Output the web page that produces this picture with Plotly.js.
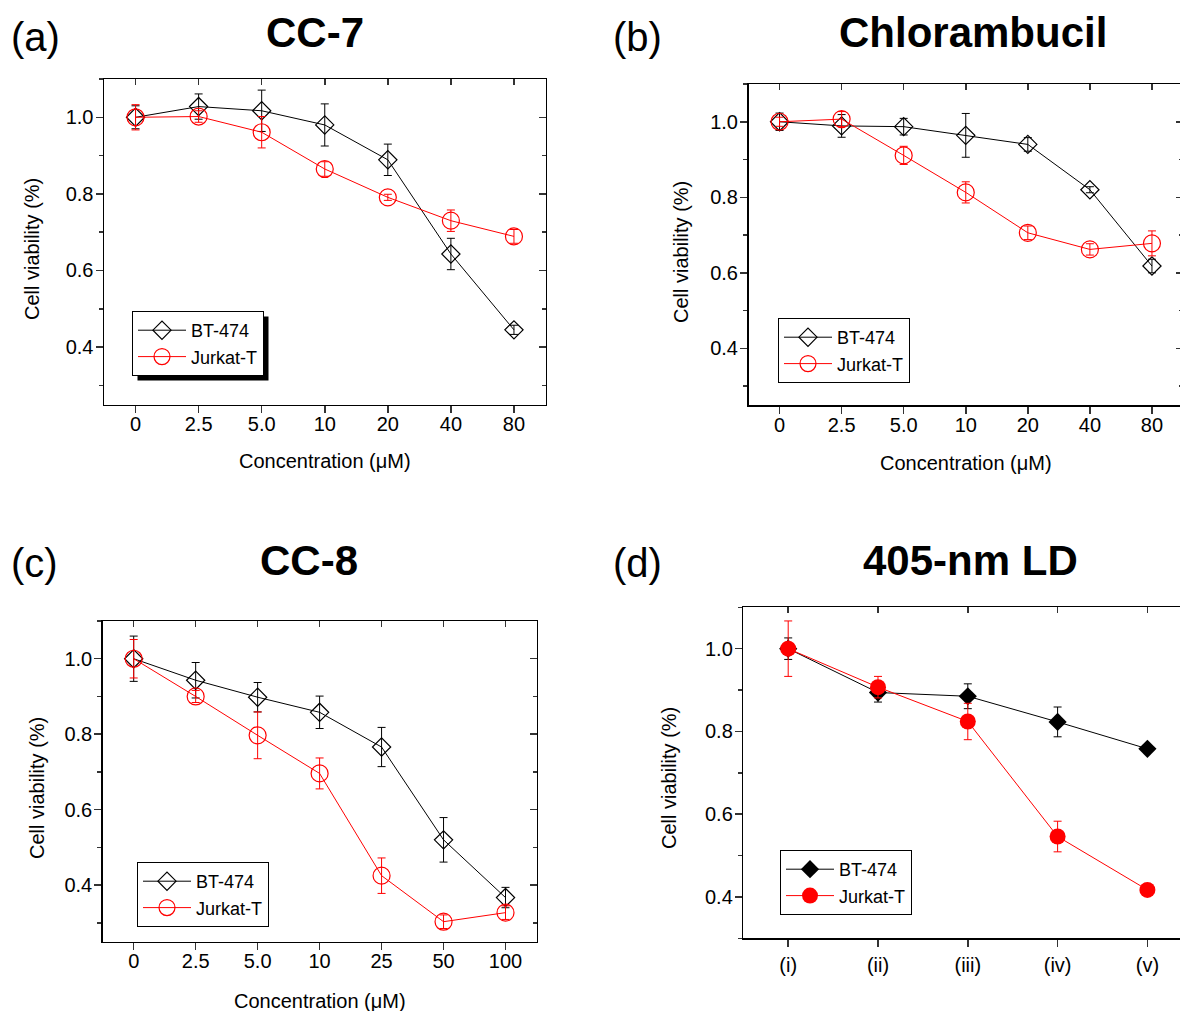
<!DOCTYPE html>
<html><head><meta charset="utf-8">
<script src="https://cdn.plot.ly/plotly-3.0.1.min.js"></script>
<style>html,body{margin:0;padding:0;overflow:hidden;background:#fff}</style>
</head><body><div id="chart" style="width:1200px;height:1011px"></div>
<script>
// ---------- data ----------
const catsA = ['0','2.5','5.0','10','20','40','80'];
const catsB = ['0','2.5','5.0','10','20','40','80'];
const catsC = ['0','2.5','5.0','10','25','50','100'];
const catsD = ['(i)','(ii)','(iii)','(iv)','(v)'];

// (a) CC-7
const aBT    = [1.000, 1.028, 1.017, 0.980, 0.889, 0.643, 0.445];
const aBTerr = [0.030, 0.033, 0.054, 0.055, 0.041, 0.041, 0.012];
const aJK    = [1.000, 1.002, 0.961, 0.865, 0.791, 0.730, 0.689];
const aJKerr = [0.033, 0.015, 0.041, 0.019, 0.008, 0.028, 0.018];
// (b) Chlorambucil
const bBT    = [1.000, 0.989, 0.987, 0.964, 0.940, 0.820, 0.618];
const bBTerr = [0.023, 0.030, 0.022, 0.058, 0.018, 0.008, 0.018];
const bJK    = [1.000, 1.007, 0.911, 0.813, 0.706, 0.662, 0.678];
const bJKerr = [0.012, 0.020, 0.024, 0.028, 0.018, 0.015, 0.033];
// (c) CC-8
const cBT    = [1.000, 0.943, 0.898, 0.858, 0.766, 0.520, 0.367];
const cBTerr = [0.060, 0.047, 0.039, 0.043, 0.052, 0.059, 0.027];
const cJK    = [1.000, 0.900, 0.797, 0.696, 0.425, 0.303, 0.327];
const cJKerr = [0.051, 0.016, 0.062, 0.041, 0.047, 0.018, 0.018];
// (d) 405-nm LD
const dBT    = [1.000, 0.894, 0.885, 0.823, 0.758];
const dBTerr = [0.026, 0.023, 0.030, 0.036, 0.005];
const dJK    = [1.000, 0.907, 0.824, 0.546, 0.417];
const dJKerr = [0.067, 0.026, 0.044, 0.037, 0.005];

const seriesNames = ['BT-474', 'Jurkat-T'];
const panelLabels = ['(a)', '(b)', '(c)', '(d)'];
const panelTitles = ['CC-7', 'Chlorambucil', 'CC-8', '405-nm LD'];
const xTitle = 'Concentration (μM)';
const yTitle = 'Cell viability (%)';

// ---------- layout geometry (px) ----------
const W = 1200, H = 1011;
const FONT = '"Liberation Sans", Arial, Helvetica, sans-serif';
const px = v => v / W;
const py = v => 1 - v / H;

const panels = [
  {box:{x0:104,   x1:545.5,  y0:79,    y1:404.5}, cats:catsA, yr:[0.25,1.1], xso:-6,
   bt:aBT, bte:aBTerr, jk:aJK, jke:aJKerr, filled:false,
   leg:{x:132, y:311}, label:{x:35,y:37}, title:{x:315,y:32}, xt:{x:325,y:461}, yt:{x:32,y:249}},
  {box:{x0:748.5, x1:1183,   y0:84,    y1:405},   cats:catsB, yr:[0.25,1.1], xso:-6,
   bt:bBT, bte:bBTerr, jk:bJK, jke:bJKerr, filled:false,
   leg:{x:778, y:318}, label:{x:637,y:37}, title:{x:973,y:32}, xt:{x:966,y:463}, yt:{x:681,y:252}},
  {box:{x0:102.7, x1:536.5,  y0:621,   y1:941.7}, cats:catsC, yr:[0.25,1.1], xso:-6,
   bt:cBT, bte:cBTerr, jk:cJK, jke:cJKerr, filled:false,
   leg:{x:137, y:862}, label:{x:34,y:563}, title:{x:309,y:560}, xt:{x:320,y:1001}, yt:{x:37,y:788}},
  {box:{x0:743.3, x1:1192.3, y0:607.3, y1:938.3}, cats:catsD, yr:[0.3,1.1], xso:1,
   bt:dBT, bte:dBTerr, jk:dJK, jke:dJKerr, filled:true,
   leg:{x:780, y:850}, label:{x:637,y:563}, title:{x:970,y:560}, xt:null, yt:{x:669,y:778}}
];

const traces = [];
const layout = {
  width: W, height: H,
  margin: {l:0, r:0, t:0, b:0},
  paper_bgcolor: '#fff', plot_bgcolor: 'rgba(0,0,0,0)',
  font: {family: FONT, size: 20, color: '#000'},
  showlegend: true,
  annotations: []
};

const tickCol = '#333';
panels.forEach((p, k) => {
  const i = k + 1;
  const xid = i === 1 ? 'x' : 'x' + i;
  const yid = i === 1 ? 'y' : 'y' + i;
  const xkey = i === 1 ? 'xaxis' : 'xaxis' + i;
  const ykey = i === 1 ? 'yaxis' : 'yaxis' + i;
  const n = p.cats.length;
  const xd = [px(p.box.x0), px(p.box.x1)];
  const yd = [py(p.box.y1), py(p.box.y0)];
  const legKey = i === 1 ? 'legend' : 'legend' + i;

  layout[xkey] = {
    domain: xd, anchor: yid, type: 'category', categoryorder: 'array', categoryarray: p.cats,
    range: [-0.5, n - 0.5], showline: true, mirror: true, linecolor: '#000', linewidth: 1.5,
    ticks: 'outside', ticklen: 7, tickwidth: 1.5, tickcolor: tickCol, ticklabelstandoff: p.xso,
    showgrid: false, zeroline: false, tickfont: {size: 20, color: '#000', family: FONT}, fixedrange: true
  };
  layout[ykey] = {
    domain: yd, anchor: xid, range: p.yr, tick0: 0, dtick: 0.2, tickformat: '.1f',
    showline: true, mirror: true, linecolor: '#000', linewidth: 1.5,
    ticks: 'outside', ticklen: 7, tickwidth: 1.5, tickcolor: tickCol, ticklabelstandoff: -2,
    minor: {dtick: 0.1, tick0: 0, ticks: 'outside', ticklen: 4, tickwidth: 1.5, tickcolor: tickCol},
    showgrid: false, zeroline: false, tickfont: {size: 20, color: '#000', family: FONT}, fixedrange: true
  };
  // inward ticks on top and right
  const tx = 'x' + (4 + i), ty = 'y' + (4 + i);
  layout['xaxis' + (4 + i)] = {
    overlaying: xid, side: 'top', anchor: yid, type: 'linear', range: [-0.5, n - 0.5],
    tickmode: 'array', tickvals: p.cats.map((c, j) => j), ticks: 'inside', ticklen: 6, tickwidth: 1.5,
    tickcolor: tickCol, showticklabels: false, showgrid: false, zeroline: false, showline: false, fixedrange: true
  };
  layout['yaxis' + (4 + i)] = {
    overlaying: yid, side: 'right', anchor: xid, range: p.yr, tick0: 0, dtick: 0.2,
    ticks: 'inside', ticklen: 7, tickwidth: 1.5, tickcolor: tickCol,
    minor: {dtick: 0.1, tick0: 0, ticks: 'inside', ticklen: 4, tickwidth: 1.5, tickcolor: tickCol},
    showticklabels: false, showgrid: false, zeroline: false, showline: false, fixedrange: true
  };
  traces.push({x: [], y: [], xaxis: tx, yaxis: yid, showlegend: false, hoverinfo: 'skip', mode: 'markers'});
  traces.push({x: [], y: [], xaxis: xid, yaxis: ty, showlegend: false, hoverinfo: 'skip', mode: 'markers'});

  layout[legKey] = {
    x: px(p.leg.x), y: py(p.leg.y), xanchor: 'left', yanchor: 'top', xref: 'paper', yref: 'paper',
    bgcolor: '#fff', bordercolor: '#000', borderwidth: 1,
    font: {size: 18, color: '#000', family: FONT}, itemwidth: 48, tracegroupgap: 0, traceorder: 'normal'
  };

  traces.push({
    x: p.cats, y: p.bt, name: seriesNames[0], legend: legKey, xaxis: xid, yaxis: yid,
    mode: 'lines+markers', line: {color: '#000', width: 1},
    marker: p.filled ? {symbol: 'diamond', size: 14, color: '#000'}
                     : {symbol: 'diamond-open', size: 14, color: '#000', line: {width: 1.2, color: '#000'}},
    error_y: {type: 'data', array: p.bte, visible: true, color: '#000', thickness: 1, width: 4}
  });
  traces.push({
    x: p.cats, y: p.jk, name: seriesNames[1], legend: legKey, xaxis: xid, yaxis: yid,
    mode: 'lines+markers', line: {color: '#ff0000', width: 1},
    marker: p.filled ? {symbol: 'circle', size: 16, color: '#ff0000'}
                     : {symbol: 'circle-open', size: 17, color: '#ff0000', line: {width: 1.2, color: '#ff0000'}},
    error_y: {type: 'data', array: p.jke, visible: true, color: '#ff0000', thickness: 1, width: 4}
  });

  const A = layout.annotations;
  A.push({text: panelLabels[k], xref: 'paper', yref: 'paper', x: px(p.label.x), y: py(p.label.y),
          xanchor: 'center', yanchor: 'middle', showarrow: false, font: {size: 40, family: FONT, color: '#000'}});
  A.push({text: '<b>' + panelTitles[k] + '</b>', xref: 'paper', yref: 'paper', x: px(p.title.x), y: py(p.title.y),
          xanchor: 'center', yanchor: 'middle', showarrow: false, font: {size: 42, family: FONT, color: '#000'}});
  if (p.xt) A.push({text: xTitle, xref: 'paper', yref: 'paper', x: px(p.xt.x), y: py(p.xt.y),
          xanchor: 'center', yanchor: 'middle', showarrow: false, font: {size: 20, family: FONT, color: '#000'}});
  A.push({text: yTitle, xref: 'paper', yref: 'paper', x: px(p.yt.x), y: py(p.yt.y), textangle: -90,
          xanchor: 'center', yanchor: 'middle', showarrow: false, font: {size: 20, family: FONT, color: '#000'}});
});

Plotly.newPlot('chart', traces, layout, {staticPlot: true, displayModeBar: false}).then(gd => {
  // drop shadows behind the legend boxes
  const host = gd.getBoundingClientRect();
  const shapes = [];
  gd.querySelectorAll('g.legend rect.bg').forEach(r => {
    const b = r.getBoundingClientRect();
    const l = b.left - host.left, t = b.top - host.top;
    shapes.push({type: 'rect', xref: 'paper', yref: 'paper', layer: 'above',
      x0: px(l + 5), x1: px(l + b.width + 5), y0: py(t + b.height + 5), y1: py(t + 5),
      fillcolor: '#000', line: {width: 0}});
  });
  return Plotly.relayout(gd, {shapes: shapes});
});
</script></body></html>
